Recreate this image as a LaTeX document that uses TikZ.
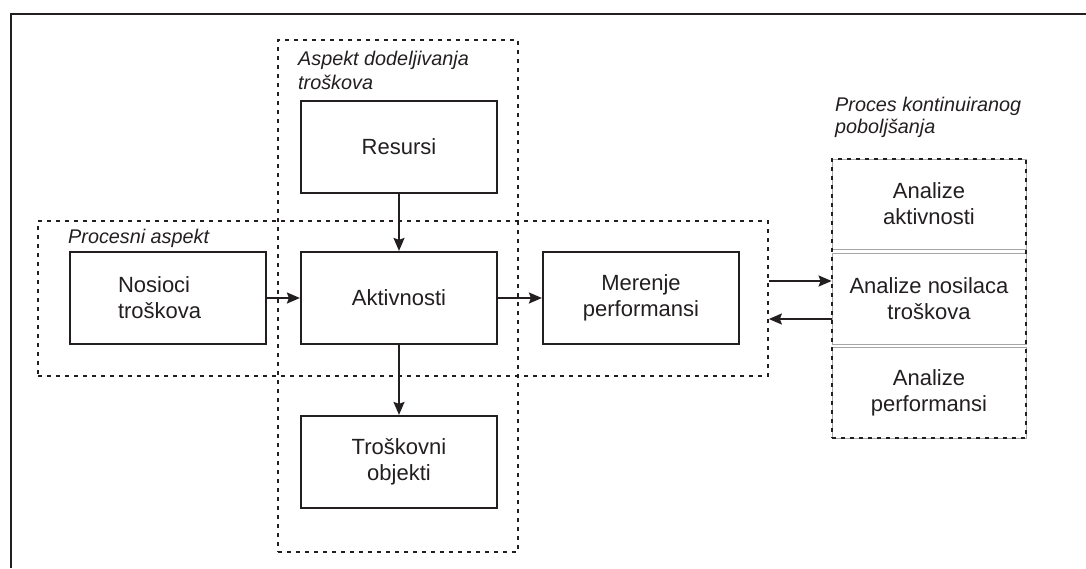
\documentclass[tikz,border=0pt]{standalone}
\usepackage{fontspec}
\setmainfont{Liberation Sans}
\usetikzlibrary{arrows.meta}
\definecolor{ink}{HTML}{231F20}
\begin{document}
\begin{tikzpicture}[x=1pt,y=-1pt,
  box/.style={draw=ink, line width=2.2pt, minimum width=196pt, minimum height=92pt,
    inner sep=0pt, align=center, text=ink, font=\fontsize{22}{26}\selectfont},
  region/.style={draw=ink, line width=1.7pt, dash pattern=on 3.8pt off 5.2pt,
    inner sep=0pt},
  anbox/.style={draw=black!35, line width=0.8pt, minimum width=194pt,
    inner sep=0pt, align=center, text=ink, font=\fontsize{22}{26}\selectfont},
  caption/.style={anchor=base west, inner sep=0pt, text=ink,
    font=\fontsize{19.8}{24}\selectfont\itshape},
  arr/.style={draw=ink, line width=2pt,
    -{Stealth[length=13pt,width=11pt,inset=2pt]}}]
\useasboundingbox (0,0) rectangle (1086,568);

% outer frame (top and left sides)
\coordinate (fbl) at (11,568);
\coordinate (ftl) at (11,14);
\coordinate (ftr) at (1086,14);
\draw[ink, line width=2.2pt] (fbl) -- (ftl) -- (ftr);

% dotted regions
\node[region, minimum width=730pt, minimum height=155pt] (proces) at (403,298.5) {};
\node[region, minimum width=240pt, minimum height=512pt] (dodela) at (398,296) {};

% captions
\node[caption] (capA1) at (298,65) {Aspekt dodeljivanja};
\node[caption] (capA2) at (298,89) {troškova};
\node[caption] (capP) at (68,243) {Procesni aspekt};
\node[caption] (capK1) at (835,111) {Proces kontinuiranog};
\node[caption] (capK2) at (835,133) {poboljšanja};

% main boxes
\node[box, fill=white] (res) at (399,147) {Resursi};
\node[box, fill=white] (akt) at (399,298) {Aktivnosti};
\node[box, fill=white] (tro) at (399,462) {Troškovni\\objekti};
\node[box, fill=white, text width=100pt, align=left] (nos) at (168,298) {Nosioci\\troškova};
\node[box, fill=white] (mer) at (641,298) {Merenje\\performansi};

% continuous improvement column
\node[anbox, minimum height=90pt] (an1) at (929,204) {Analize\\aktivnosti};
\node[anbox, minimum height=91pt] (an2) at (929,298.5) {Analize nosilaca\\troškova};
\node[anbox, minimum height=91pt] (an3) at (929,392.5) {Analize\\performansi};
\node[region, minimum width=194pt, minimum height=279pt] (kont) at (929,298.5) {};

% connectors
\draw[arr] (res) -- (akt);
\draw[arr] (akt) -- (tro);
\draw[arr] (nos) -- (akt);
\draw[arr] (akt) -- (mer);
\coordinate (up) at (0,281);
\coordinate (dn) at (0,319);
\draw[arr] (proces.east |- up) -- (an2.west |- up);
\draw[arr] (an2.west |- dn) -- (proces.east |- dn);
\end{tikzpicture}
\end{document}
